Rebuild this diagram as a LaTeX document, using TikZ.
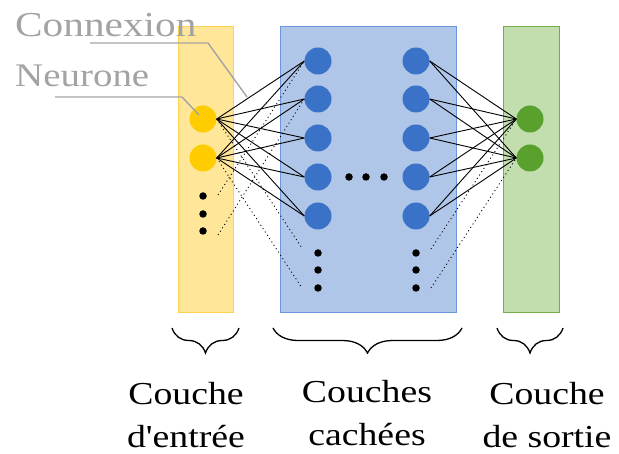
\documentclass[tikz,border=0pt]{standalone}
\usepackage{fontspec}
\setmainfont{Liberation Serif}
\newfontfamily\labfont[FakeStretch=1.18]{Liberation Serif}
\usetikzlibrary{decorations.pathreplacing}
\definecolor{yfill}{HTML}{FFE699}
\definecolor{ydraw}{HTML}{FFD24D}
\definecolor{yneu}{HTML}{FFCC00}
\definecolor{bfill}{HTML}{B0C6E8}
\definecolor{bdraw}{HTML}{6A96DC}
\definecolor{bneu}{HTML}{3A72C8}
\definecolor{gfill}{HTML}{C2DEAE}
\definecolor{gdraw}{HTML}{74AE4C}
\definecolor{gneu}{HTML}{5AA02C}
\definecolor{annot}{HTML}{A3A3A3}
\begin{document}
\begin{tikzpicture}[x=1pt,y=-1pt,
  neuron/.style={circle,inner sep=0pt,minimum size=27pt,draw=none},
  dotn/.style={circle,fill=black,inner sep=0pt,minimum size=7.5pt},
  conn/.style={black,line width=0.9pt},
  dotline/.style={black,line width=0.9pt,dash pattern=on 1pt off 3pt},
  annotline/.style={annot,line width=1.4pt},
  brc/.style={line width=1.3pt,decorate,decoration={brace,amplitude=25pt}},
  lab/.style={align=center,inner sep=0pt,font=\labfont\fontsize{32}{43}\selectfont}
]
\useasboundingbox (0,0) rectangle (619,454);
% layer boxes
\draw[fill=yfill,draw=ydraw,line width=1pt] (178,27) rectangle (233,313);
\draw[fill=bfill,draw=bdraw,line width=1pt] (280,27) rectangle (456,313);
\draw[fill=gfill,draw=gdraw,line width=1pt] (503,27) rectangle (559,313);
% neurons
\node[neuron,fill=yneu] (i1) at (203,119) {};
\node[neuron,fill=yneu] (i2) at (203,158) {};
\node[dotn] (id1) at (203,196) {};
\node[dotn] (id2) at (203,214) {};
\node[dotn] (id3) at (203,231) {};
\foreach \n/\y in {1/61,2/99,3/138,4/177,5/216}{
  \node[neuron,fill=bneu] (h\n) at (318,\y) {};
  \node[neuron,fill=bneu] (k\n) at (416,\y) {};
}
\node[dotn] (hd1) at (318,253) {};
\node[dotn] (hd2) at (318,270) {};
\node[dotn] (hd3) at (318,288) {};
\node[dotn] (kd1) at (416,253) {};
\node[dotn] (kd2) at (416,270) {};
\node[dotn] (kd3) at (416,288) {};
\node[dotn] (md1) at (349,177) {};
\node[dotn] (md2) at (366,177) {};
\node[dotn] (md3) at (384,177) {};
\node[neuron,fill=gneu] (o1) at (530,119) {};
\node[neuron,fill=gneu] (o2) at (530,158) {};
% connections
\foreach \i in {1,2}{
  \foreach \n in {1,...,5}{
    \draw[conn] (i\i.east) -- (h\n.west);
    \draw[conn] (k\n.east) -- (o\i.west);
  }
}
% dotted connections
\coordinate (d1) at (218,195);
\coordinate (d2) at (218,235);
\coordinate (e1) at (302,248);
\coordinate (e2) at (302,288);
\coordinate (f1) at (431,249);
\coordinate (f2) at (431,288);
\draw[dotline] (d1) -- (h1.west);
\draw[dotline] (d2) -- (h2.west);
\draw[dotline] (i1.east) -- (e1);
\draw[dotline] (i2.east) -- (e2);
\draw[dotline] (f1) -- (o1.west);
\draw[dotline] (f2) -- (o2.west);
% annotations
\node[anchor=base west,inner sep=0pt,text=annot,font=\labfont\fontsize{35}{40}\selectfont] (tcon) at (15,37) {Connexion};
\node[anchor=base west,inner sep=0pt,text=annot,font=\labfont\fontsize{33}{40}\selectfont] (tneu) at (15,87) {Neurone};
\coordinate (ca) at (90,43);
\coordinate (cb) at (208,43);
\coordinate (cc) at (247,97);
\coordinate (na) at (55,97);
\coordinate (nb) at (182,97);
\coordinate (nc) at (199,115);
\draw[annotline] (ca) -- (cb) -- (cc);
\draw[annotline] (na) -- (nb) -- (nc);
% braces
\coordinate (b1r) at (239,328);
\coordinate (b1l) at (172,328);
\coordinate (b2r) at (462,328);
\coordinate (b2l) at (273,328);
\coordinate (b3r) at (563,328);
\coordinate (b3l) at (497,328);
\draw[brc] (b1r) -- (b1l);
\draw[brc] (b2r) -- (b2l);
\draw[brc] (b3r) -- (b3l);
% labels
\node[lab] (l1) at (186,415) {Couche\\d'entrée};
\node[lab] (l2) at (367,413) {Couches\\cachées};
\node[lab] (l3) at (547,415) {Couche\\de sortie};
\end{tikzpicture}
\end{document}
